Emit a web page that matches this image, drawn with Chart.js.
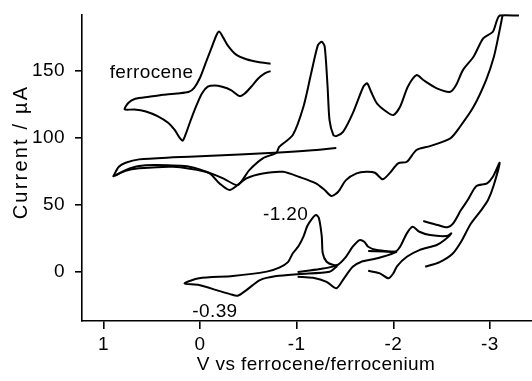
<!DOCTYPE html>
<html><head><meta charset="utf-8">
<script src="https://cdn.jsdelivr.net/npm/chart.js@4.4.1/dist/chart.umd.min.js"></script>
<style>html,body{margin:0;padding:0;background:#fff;}canvas{display:block;}</style>
</head><body>
<canvas id="c" width="532" height="381"></canvas>
<script>
// ---- data (V vs Fc/Fc+, current in µA) ----
const xTicks = [1, 0, -1, -2, -3];
const yTicks = [0, 50, 100, 150];

// ferrocene reference CV (inset)
const fcV = [-0.73,-0.60,-0.48,-0.37,-0.29,-0.24,-0.20,-0.17,-0.12,-0.06,0.00,0.06,0.12,0.24,0.38,0.53,0.67,0.74,0.78,
             0.68,0.56,0.44,0.33,0.26,0.21,0.18,0.15,0.10,0.04,-0.02,-0.08,-0.15,-0.23,-0.32,-0.41,-0.46,-0.53,-0.60,-0.67,-0.73];
const fcI = [155.5,156.8,158.8,162.5,168.8,175.0,179.5,176.8,167.5,156.3,145.0,137.5,134.3,133.3,132.3,130.8,129.3,126.3,121.3,
             121.3,119.8,116.3,111.3,105.8,100.0,98.0,102.5,112.5,123.8,133.3,138.3,139.3,138.3,135.8,131.3,133.0,138.3,144.3,148.3,150.0];

// upper full-range CV
const upStartV = [-1.41,-1.13,-0.82,-0.41,-0.06,0.28,0.63,0.77,0.84,0.89,0.90];
const upStartI = [92.5,90.6,89.1,87.6,86.5,85.5,84.0,81.5,78.5,72.3,70.8];
const upFwdV = [0.89,0.77,0.63,0.28,-0.06,-0.24,-0.39,-0.51,-0.65,-0.79,-0.82,-0.96,-1.07,-1.15,-1.22,-1.26,-1.29,-1.32,-1.34,-1.38,-1.41,
                -1.48,-1.58,-1.69,-1.73,-1.77,-1.83,-1.93,-2.00,-2.07,-2.15,-2.24,-2.31,-2.45,-2.59,-2.65,-2.72,-2.83,-2.93,-3.03,-3.10,-3.30];
const upFwdI = [71.5,75.5,77.3,78.5,74.7,69.8,64.8,76.0,84.8,88.9,93.4,102.2,123.3,148.3,169.4,171.9,168.2,138.3,113.4,102.2,101.4,
                104.6,118.4,138.3,140.8,134.5,125.9,119.6,117.1,123.3,138.3,147.0,143.3,137.1,134.5,139.5,150.7,160.7,174.4,179.4,191.5,191.5];
const upRevV = [-3.13,-3.09,-3.04,-2.96,-2.83,-2.69,-2.59,-2.38,-2.24,-2.14,-2.05,-1.96,-1.89,-1.81,-1.72,-1.62,-1.51,-1.43,-1.36,-1.29,
                -1.20,-1.03,-0.86,-0.65,-0.48,-0.31,-0.20,-0.10,0.11,0.45,0.63,0.77,0.87];
const upRevI = [191.5,176.9,160.5,143.3,123.3,108.4,99.7,93.9,91.0,82.2,81.0,73.5,69.1,74.0,74.7,73.5,68.5,59.8,56.6,61.1,
                66.1,70.8,74.7,73.5,69.8,61.1,66.1,73.5,78.5,79.7,79.0,76.0,72.3];

// lower CVs with successive switching potentials
const lo1V = [-1.42,-1.34,-1.03,-0.79,-0.62,-0.48,-0.39,-0.31,-0.17,0.01,0.16,0.01,-0.34,-0.69,-0.82,-0.91,-0.96,-1.02,-1.07,-1.11,-1.16,-1.20,-1.23,-1.26,-1.27,-1.31,-1.38,-1.43];
const lo1I = [4.3,0.0,-1.7,-3.2,-6.2,-13.7,-17.9,-16.7,-13.7,-9.9,-8.7,-4.9,-3.2,0.1,3.1,7.2,13.8,19.2,26.2,34.2,39.8,42.4,40.1,26.2,13.8,7.5,5.0,5.0];
const lo2V = [-1.01,-1.24,-1.42,-1.51,-1.58,-1.65,-1.70,-1.74,-1.83,-2.00,-2.03,-1.89,-1.79,-1.67,-1.58,-1.49,-1.41,-1.31,-1.17,-1.01];
const lo2I = [-0.2,2.0,5.0,11.2,18.7,23.7,22.4,18.7,16.2,14.9,14.7,11.2,9.3,7.5,3.7,-4.9,-12.4,-7.5,-4.5,-3.7];
const lo3V = [-1.74,-2.02,-2.07,-2.14,-2.20,-2.27,-2.38,-2.55,-2.60,-2.53,-2.45,-2.27,-2.14,-2.04,-2.00,-1.95,-1.86,-1.74];
const lo3I = [15.5,15.1,18.7,28.7,33.6,29.9,27.4,26.7,28.7,23.7,20.0,16.2,11.2,4.3,-1.2,-4.9,-1.2,0.7];
const lo4V = [-2.31,-2.46,-2.56,-2.62,-2.70,-2.77,-2.86,-2.97,-3.03,-3.10,-3.04,-2.98,-2.91,-2.80,-2.70,-2.61,-2.48,-2.33];
const lo4I = [37.9,34.9,33.2,36.2,46.1,53.6,64.1,66.1,71.0,81.5,64.8,53.6,46.1,35.7,22.2,13.2,7.2,3.7];

const noteTexts = ['ferrocene', '-1.20', '-0.39'];
const noteV = [0.935, -1.12, 0.08];
const noteI = [144.7, 38.6, -33.6];

const xTitle = 'V vs ferrocene/ferrocenium';
const yTitle = 'Current / µA';

// ---- build chart ----
const F = '"Liberation Sans", Arial, Helvetica, sans-serif';
const FS = 19;
const zip = (v, i) => v.map((x, k) => ({x: x, y: i[k]}));
const segs = [[fcV,fcI],[upStartV,upStartI],[upFwdV,upFwdI],[upRevV,upRevI],[lo1V,lo1I],[lo2V,lo2I],[lo3V,lo3I],[lo4V,lo4I]];
const datasets = segs.map(s => ({
  data: zip(s[0], s[1]), borderColor: '#000', borderWidth: 2, pointRadius: 0,
  fill: false, tension: 0.25, clip: false
}));

const spacing = {id:'spacing',
  beforeUpdate(c){ c.ctx.letterSpacing = '0.4px'; },
  beforeDraw(c){ c.ctx.letterSpacing = '0.4px'; }};
const notes = {id:'notes', afterDraw(chart){
  const ctx = chart.ctx, x = chart.scales.x, y = chart.scales.y, a = chart.chartArea;
  ctx.save(); ctx.fillStyle = '#000'; ctx.font = FS + 'px ' + F;
  ctx.letterSpacing = '0.4px';
  ctx.textBaseline = 'alphabetic';
  noteTexts.forEach((t, k) => {
    ctx.textAlign = k === 1 ? 'right' : 'left';
    ctx.fillText(t, x.getPixelForValue(noteV[k]), y.getPixelForValue(noteI[k]));
  });
  // axis titles
  ctx.textAlign = 'center';
  ctx.fillText(xTitle, a.left + 234, a.bottom + 49);
  ctx.save();
  ctx.translate(27, a.top + 137);
  ctx.rotate(-Math.PI / 2);
  ctx.font = '20px ' + F;
  ctx.letterSpacing = '2.2px';
  ctx.fillText(yTitle, 0, 0);
  ctx.restore();
  ctx.restore();
}};

new Chart(document.getElementById('c'), {
  type: 'line',
  data: {datasets},
  plugins: [spacing, notes],
  options: {
    responsive: false, animation: false, devicePixelRatio: 1,
    layout: {padding: {top: 15, right: 0, left: 0, bottom: 0}},
    plugins: {legend: {display: false}, tooltip: {enabled: false}},
    scales: {
      x: {type: 'linear', reverse: true, min: -3.435, max: 1.221,
        afterBuildTicks: s => { s.ticks = xTicks.map(v => ({value: v})); },
        afterFit: s => { s.height = 60; s.paddingLeft = 0; s.paddingRight = 0; },
        border: {display: true, color: '#000', width: 1.6},
        grid: {display: true, drawOnChartArea: false, drawTicks: true, tickLength: 8, color: '#000', lineWidth: 1.6},
        ticks: {color: '#000', font: {family: F, size: FS}, padding: 4, maxRotation: 0, autoSkip: false},
        title: {display: false, text: xTitle}
      },
      y: {type: 'linear', min: -36.8, max: 191.9,
        afterBuildTicks: s => { s.ticks = yTicks.map(v => ({value: v})); },
        afterFit: s => { s.width = 82; s.paddingTop = 0; s.paddingBottom = 0; },
        border: {display: true, color: '#000', width: 1.6},
        grid: {display: true, drawOnChartArea: false, drawTicks: true, tickLength: 7, color: '#000', lineWidth: 1.6},
        ticks: {color: '#000', font: {family: F, size: FS}, padding: 10, autoSkip: false},
        title: {display: false, text: yTitle}
      }
    }
  }
});
</script>
</body></html>
